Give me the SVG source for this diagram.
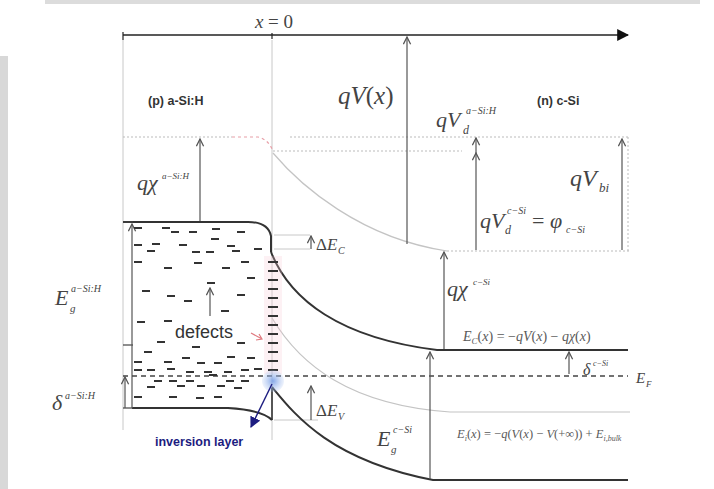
<svg xmlns="http://www.w3.org/2000/svg" width="714" height="489" viewBox="0 0 714 489">
<defs>
<style>
.band{fill:none;stroke:#333;stroke-width:2}
.arr{fill:none;stroke:#555;stroke-width:1.2;marker-end:url(#open)}
.thin{fill:none;stroke:#c8c8c8;stroke-width:1}
.dot{fill:none;stroke:#bbb;stroke-width:1;stroke-dasharray:2 2}
.faint{fill:none;stroke:#c4c4c4;stroke-width:1.2}
.m{font-family:"Liberation Serif",serif;font-style:italic;fill:#444}
.m2{font-family:"Liberation Serif",serif;font-style:italic;fill:#5a5a5a}
.s{font-family:"Liberation Sans",sans-serif;fill:#333}
.blue{font-family:"Liberation Sans",sans-serif;fill:#1c1c80;font-weight:bold}
.up{font-style:normal}
</style>
<marker id="open" viewBox="0 0 10 10" refX="9" refY="5" markerWidth="9" markerHeight="9" markerUnits="userSpaceOnUse" orient="auto">
<path d="M1,1 L9,5 L1,9" fill="none" stroke="#555" stroke-width="1.4"/>
</marker>
<marker id="solid" viewBox="0 0 10 10" refX="9" refY="5" markerWidth="12" markerHeight="12" markerUnits="userSpaceOnUse" orient="auto">
<path d="M0,0 L10,5 L0,10 z" fill="#111"/>
</marker>
<marker id="blue" viewBox="0 0 10 10" refX="9" refY="5" markerWidth="11" markerHeight="11" markerUnits="userSpaceOnUse" orient="auto">
<path d="M0,0 L10,5 L0,10 z" fill="#1c1c80"/>
</marker>
<radialGradient id="glow">
<stop offset="0" stop-color="#7aa0e6" stop-opacity="0.9"/>
<stop offset="1" stop-color="#a9c2f0" stop-opacity="0.2"/>
</radialGradient>
</defs>
<rect width="714" height="489" fill="#fff"/>
<g id="frame-decor">
<rect x="45" y="0" width="655" height="4" fill="#dcdcdc"/>
<rect x="0" y="56" width="8" height="433" fill="#d8d8d8"/>
</g>

<g id="axis">
<line x1="123" y1="35" x2="628" y2="35" stroke="#222" stroke-width="1.6" marker-end="url(#solid)"/>
<line x1="123" y1="32" x2="123" y2="40" stroke="#222" stroke-width="1.2"/>
<line x1="272" y1="33" x2="272" y2="39" stroke="#222" stroke-width="1.2"/>
<text class="m" x="274" y="28" font-size="19" text-anchor="middle">x<tspan class="up"> = 0</tspan></text>
</g>

<g id="guides">
<line class="thin" x1="123" y1="40" x2="123" y2="430"/>
<line class="thin" x1="272" y1="40" x2="272" y2="440"/>
<line class="dot" x1="123" y1="137" x2="232" y2="137"/>
<path d="M232,137 L258,137 Q268,139 273,151" fill="none" stroke="#e8a0a8" stroke-width="1.2" stroke-dasharray="3 3"/>
<line class="dot" x1="290" y1="137" x2="628" y2="137"/>
<line class="dot" x1="273" y1="151" x2="462" y2="151"/>
<path class="faint" d="M273,153 C300,185 360,238 447,251"/>
<line class="dot" x1="447" y1="251" x2="630" y2="251"/>
<line class="dot" x1="628" y1="137" x2="628" y2="251"/>
<path class="faint" d="M272,318 C300,365 350,405 450,412 L630,412"/>
<line class="thin" x1="274" y1="235" x2="310" y2="235"/>
<line class="thin" x1="274" y1="249" x2="310" y2="249"/>
<line class="thin" x1="274" y1="420" x2="318" y2="420"/>
</g>

<g id="a-Si-H-bands">
<path class="band" d="M123,222 L248,222 Q268,222 271,236 L271,252"/>
<path class="band" d="M132,408 L228,408 Q262,410 272,420"/>
<line x1="272" y1="388" x2="272" y2="420" stroke="#333" stroke-width="1.6"/>
<line x1="123" y1="222" x2="133" y2="222" stroke="#444" stroke-width="1.2"/>
<line x1="123" y1="345" x2="133" y2="345" stroke="#444" stroke-width="1.2"/>
<line x1="123" y1="408" x2="133" y2="408" stroke="#444" stroke-width="1.2"/>
<line x1="132" y1="408" x2="132" y2="224" class="arr"/>
</g>

<g id="c-Si-bands">
<path class="band" d="M271,252 C290,300 340,338 437,350 L628,350"/>
<path class="band" d="M272,387 C295,415 330,460 433,480 L628,480"/>
</g>

<g id="fermi-level">
<line x1="123" y1="376" x2="628" y2="376" stroke="#444" stroke-width="1.4" stroke-dasharray="5 4"/>
</g>

<g id="defect-states">
<path stroke="#333" stroke-width="1.8" fill="none" d="M134,228h8 M162,228h8 M171,232h8 M189,232h8 M212,229h8 M237,232h8 M211,239h8 M134,245h8 M152,244h8 M147,251h8 M179,245h8 M192,252h8 M206,252h8 M227,246h8 M232,251h8 M254,249h8 M134,262h8 M164,268h8 M194,263h8 M222,268h8 M241,262h8 M247,278h8 M207,283h8 M142,291h8 M167,296h8 M184,301h8 M237,295h8 M221,311h8 M137,322h8 M164,321h8 M157,342h8 M192,347h8 M237,343h8 M144,352h8 M164,362h8 M182,358h8 M197,363h8 M214,363h8 M227,357h8 M247,358h8 M134,362h8 M134,370h8 M147,370h8 M167,369h8 M186,372h8 M204,372h8 M224,372h8 M241,370h8 M254,369h8 M154,381h8 M169,381h8 M186,381h8 M209,375h8 M226,381h8 M241,381h8 M147,387h8 M177,386h8 M197,386h8 M217,386h8 M234,388h8 M134,397h8 M169,397h8 M196,398h8 M214,397h8"/>
</g>

<g id="interface-defects">
<rect x="264" y="256" width="18" height="118" fill="#f6c9d2" opacity="0.25"/>
<path stroke="#333" stroke-width="1.8" fill="none" d="M268,262h10 M268,271h10 M268,280h10 M268,289h10 M268,298h10 M268,307h10 M268,316h10 M268,325h10 M268,334h10 M268,343h10 M268,352h10 M268,361h10 M268,370h10"/>
</g>

<g id="defects-label">
<text class="s" x="175" y="338" font-size="18">defects</text>
<line class="arr" x1="210" y1="316" x2="210" y2="288"/>
<path d="M251,333 L262,339 M256,340 L262,339 L259,334" fill="none" stroke="#e07a80" stroke-width="1.2"/>
</g>

<g id="inversion-layer">
<circle cx="273" cy="381" r="11" fill="url(#glow)"/>
<line x1="272" y1="384" x2="251" y2="427" stroke="#1c1c80" stroke-width="1.4" marker-end="url(#blue)"/>
<text class="blue" x="155" y="446" font-size="12.5">inversion layer</text>
</g>

<g id="region-labels">
<text class="s" x="148" y="105" font-size="12.5" font-weight="bold">(p) a-Si:H</text>
<text class="s" x="537" y="105" font-size="12.5" font-weight="bold">(n) c-Si</text>
</g>

<g id="connectors">
<line class="arr" x1="407" y1="244" x2="407" y2="37"/>
<line class="arr" x1="200" y1="221" x2="200" y2="139"/>
<line class="arr" x1="476" y1="250" x2="476" y2="153"/>
<line class="arr" x1="476" y1="153" x2="476" y2="138"/>
<line class="arr" x1="622" y1="250" x2="622" y2="139"/>
<line class="arr" x1="444" y1="349" x2="444" y2="252"/>
<line class="arr" x1="311" y1="249" x2="311" y2="236"/>
<line class="arr" x1="311" y1="420" x2="311" y2="386"/>
<line class="arr" x1="125" y1="408" x2="125" y2="377"/>
<line class="arr" x1="569" y1="374" x2="569" y2="352"/>
<line class="arr" x1="430" y1="479" x2="430" y2="352"/>
</g>

<g id="math-labels">
<text class="m" x="338" y="104" font-size="25">qV<tspan class="up">(</tspan>x<tspan class="up">)</tspan></text>
<text class="m" x="436" y="127" font-size="22">qV</text>
<text class="m" x="463" y="134" font-size="12">d</text>
<text class="m" x="466" y="114" font-size="10">a−Si:H</text>
<text class="m" x="570" y="186" font-size="24">qV</text>
<text class="m" x="599" y="192" font-size="13">bi</text>
<text class="m" x="480" y="228" font-size="22">qV</text>
<text class="m" x="505" y="234" font-size="12">d</text>
<text class="m" x="507" y="214" font-size="10">c−Si</text>
<text class="m" x="532" y="228" font-size="22"><tspan class="up">=</tspan> φ</text>
<text class="m" x="566" y="233" font-size="10">c−Si</text>
<text class="m" x="137" y="190" font-size="22">qχ</text>
<text class="m" x="162" y="179" font-size="9">a−Si:H</text>
<text class="m" x="447" y="296" font-size="22">qχ</text>
<text class="m" x="473" y="285" font-size="9">c−Si</text>
<text class="m" x="316" y="250" font-size="17"><tspan class="up">Δ</tspan>E</text>
<text class="m" x="338" y="254" font-size="10">C</text>
<text class="m" x="316" y="416" font-size="17"><tspan class="up">Δ</tspan>E</text>
<text class="m" x="338" y="420" font-size="10">V</text>
<text class="m" x="55" y="305" font-size="22">E</text>
<text class="m" x="70" y="312" font-size="11">g</text>
<text class="m" x="71" y="292" font-size="10">a−Si:H</text>
<text class="m" x="52" y="410" font-size="22">δ</text>
<text class="m" x="65" y="399" font-size="10">a−Si:H</text>
<text class="m" x="377" y="446" font-size="22">E</text>
<text class="m" x="391" y="453" font-size="11">g</text>
<text class="m" x="393" y="433" font-size="10">c−Si</text>
<text class="m" x="636" y="383" font-size="15">E</text>
<text class="m" x="646" y="387" font-size="9">F</text>
<text class="m" x="583" y="375" font-size="16">δ</text>
<text class="m" x="593" y="366" font-size="8">c−Si</text>
<text class="m2" x="463" y="341" font-size="14">E<tspan font-size="9" dy="3">C</tspan><tspan class="up" dy="-3">(</tspan>x<tspan class="up">) = −</tspan>qV<tspan class="up">(</tspan>x<tspan class="up">) − </tspan>qχ<tspan class="up">(</tspan>x<tspan class="up">)</tspan></text>
<text class="m2" x="457" y="438" font-size="12.5">E<tspan font-size="8" dy="3">i</tspan><tspan class="up" dy="-3">(</tspan>x<tspan class="up">) = −</tspan>q<tspan class="up">(</tspan>V<tspan class="up">(</tspan>x<tspan class="up">) − </tspan>V<tspan class="up">(+∞)) + </tspan>E<tspan font-size="8" dy="3">i,bulk</tspan></text>
</g>
</svg>
